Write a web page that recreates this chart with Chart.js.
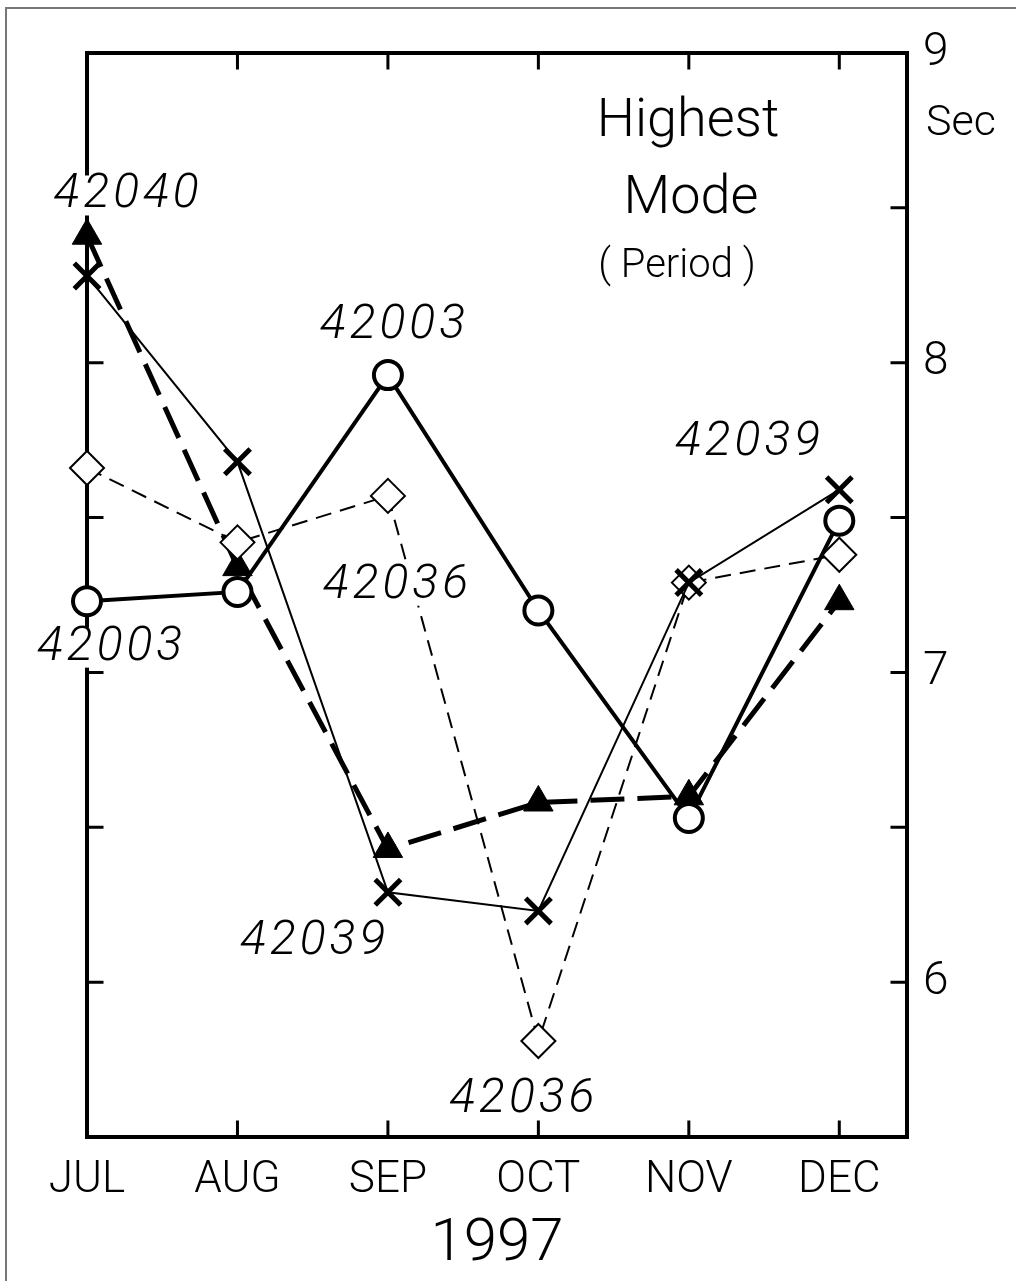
<!DOCTYPE html>
<html>
<head>
<meta charset="utf-8">
<script src="https://cdn.jsdelivr.net/npm/chart.js@4.4.1/dist/chart.umd.min.js"></script>
<style>
  html, body { margin: 0; padding: 0; background: #fff; }
  #wrap { position: relative; width: 1016px; height: 1281px; overflow: hidden; }
  #frame { position: absolute; left: 5px; top: 7px; width: 1100px; height: 1400px; border: 2px solid #777; }
  canvas { position: absolute; left: 0; top: 0; }
</style>
</head>
<body>
<div id="wrap">
  <div id="frame"></div>
  <canvas id="chart" width="1016" height="1281"></canvas>
</div>
<script>
const months = ['JUL', 'AUG', 'SEP', 'OCT', 'NOV', 'DEC'];
const monthPos = [0, 1, 2, 3, 4, 5];

// highest mode period, seconds
const buoy42003 = [7.23, 7.26, 7.96, 7.20, 6.53, 7.49];
const buoy42040 = [8.41, 7.34, 6.43, 6.58, 6.60, 7.23];
const buoy42039 = [8.28, 7.68, 6.29, 6.23, 7.29, 7.59];
const buoy42036 = [7.66, 7.42, 7.57, 5.81, 7.29, 7.38];

const yTicks = [6, 6.5, 7, 7.5, 8, 8.5, 9];

// station tags written next to the curves (month index, seconds)
const tagText = ['42040', '42003', '42003', '42036', '42039', '42039', '42036'];
const tagX = [0.26, 2.03, 0.15, 2.05, 4.39, 1.5, 2.89];
const tagY = [8.54, 8.12, 7.08, 7.28, 7.74, 6.13, 5.62];

const FONT = 'Roboto, "Liberation Sans", sans-serif';

function pts(values) {
    return values.map((v, i) => ({ x: monthPos[i], y: v }));
}

const framePlugin = {
    id: 'frame',
    beforeDatasetsDraw(chart) {
        const ctx = chart.ctx;
        const a = chart.chartArea;
        const xs = chart.scales.x;
        const ys = chart.scales.y;
        ctx.save();
        ctx.strokeStyle = '#000';
        ctx.lineWidth = 4;
        ctx.lineCap = 'square';
        ctx.strokeRect(a.left, a.top, a.right - a.left, a.bottom - a.top);
        ctx.lineWidth = 3;
        ctx.beginPath();
        monthPos.slice(1).forEach(m => {
            const px = xs.getPixelForValue(m);
            ctx.moveTo(px, a.bottom);
            ctx.lineTo(px, a.bottom - 15);
            ctx.moveTo(px, a.top);
            ctx.lineTo(px, a.top + 15);
        });
        yTicks.filter(v => v < 9).forEach(v => {
            const py = ys.getPixelForValue(v);
            ctx.moveTo(a.right, py);
            ctx.lineTo(a.right - 15, py);
            ctx.moveTo(a.left, py);
            ctx.lineTo(a.left + 15, py);
        });
        ctx.stroke();
        ctx.restore();
    },
    afterDatasetsDraw(chart) {
        const ctx = chart.ctx;
        const xs = chart.scales.x;
        const ys = chart.scales.y;
        ctx.save();
        ctx.textAlign = 'center';
        ctx.textBaseline = 'middle';
        ctx.font = 'italic 300 48px ' + FONT;
        ctx.letterSpacing = '4px';
        tagText.forEach((t, i) => {
            const px = xs.getPixelForValue(tagX[i]);
            const py = ys.getPixelForValue(tagY[i]);
            const w = ctx.measureText(t).width;
            ctx.fillStyle = '#fff';
            ctx.fillRect(px - w / 2 - 4, py - 20, w + 8, 40);
            ctx.fillStyle = '#000';
            ctx.fillText(t, px + 2, py);
        });
        ctx.letterSpacing = '0px';
        ctx.font = '300 54px ' + FONT;
        ctx.fillText('Highest', 688, 122);
        ctx.fillText('Mode', 691, 199);
        ctx.font = '300 40px ' + FONT;
        ctx.fillText('( Period )', 677, 267);
        ctx.textAlign = 'left';
        ctx.font = '300 43px ' + FONT;
        ctx.fillText('Sec', 926, 124);
        ctx.restore();
    }
};

new Chart(document.getElementById('chart'), {
    type: 'line',
    data: {
        datasets: [
            {
                label: '42003',
                data: pts(buoy42003),
                borderColor: '#000',
                borderWidth: 4,
                pointStyle: 'circle',
                pointRadius: 14,
                pointBorderWidth: 4,
                pointBackgroundColor: '#fff',
                pointBorderColor: '#000',
                clip: false
            },
            {
                label: '42039',
                data: pts(buoy42039),
                borderColor: '#000',
                borderWidth: 2,
                pointStyle: 'crossRot',
                pointRadius: 18,
                pointBorderWidth: 5,
                pointBorderColor: '#000',
                clip: false
            },
            {
                label: '42036',
                data: pts(buoy42036),
                borderColor: '#000',
                borderWidth: 2,
                borderDash: [16, 9],
                pointStyle: 'rectRot',
                pointRadius: 17,
                pointBorderWidth: 2,
                pointBackgroundColor: '#fff',
                pointBorderColor: '#000',
                clip: false
            },
            {
                label: '42040',
                data: pts(buoy42040),
                borderColor: '#000',
                borderWidth: 5,
                borderDash: [34, 13],
                pointStyle: 'triangle',
                pointRadius: 17,
                pointBorderWidth: 1,
                pointBackgroundColor: '#000',
                pointBorderColor: '#000',
                clip: false
            }
        ]
    },
    options: {
        responsive: false,
        animation: false,
        layout: { padding: { left: 87, top: 53, right: 0, bottom: 0 } },
        plugins: {
            legend: { display: false },
            tooltip: { enabled: false }
        },
        scales: {
            x: {
                type: 'linear',
                min: 0,
                max: 5.45,
                afterBuildTicks: s => { s.ticks = monthPos.map(v => ({ value: v })); },
                afterFit: s => { s.height = 1281 - 1137; },
                ticks: {
                    callback: v => months[v],
                    font: { family: FONT, size: 44, weight: 300 },
                    color: '#000',
                    padding: 18,
                    maxRotation: 0,
                    autoSkip: false
                },
                grid: { display: false, drawTicks: false },
                border: { display: false },
                title: {
                    display: true,
                    text: '1997',
                    font: { family: FONT, size: 60, weight: 300 },
                    color: '#000',
                    padding: { top: 0, bottom: 0 }
                }
            },
            y: {
                type: 'linear',
                position: 'right',
                min: 5.5,
                max: 9,
                afterBuildTicks: s => { s.ticks = yTicks.map(v => ({ value: v })); },
                afterFit: s => { s.width = 1016 - 907; },
                ticks: {
                    callback: v => Number.isInteger(v) ? String(v) : '',
                    font: { family: FONT, size: 46, weight: 300 },
                    color: '#000',
                    padding: 16
                },
                grid: { display: false, drawTicks: false },
                border: { display: false }
            }
        }
    },
    plugins: [framePlugin]
});
</script>
</body>
</html>
